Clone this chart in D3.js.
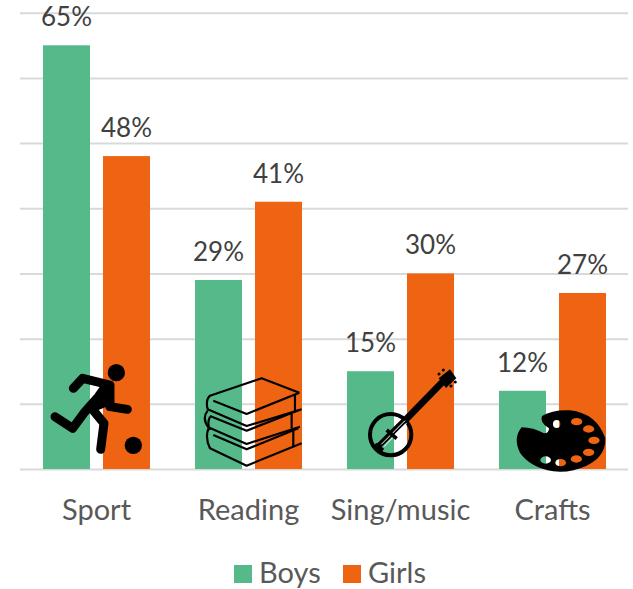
<!DOCTYPE html>
<html>
<head>
<meta charset="utf-8">
<script src="https://cdn.jsdelivr.net/npm/d3@7/dist/d3.min.js"></script>
<style>
html,body{margin:0;padding:0;background:#fff}
svg{display:block}
text{font-family:Lato,"Open Sans",sans-serif}
</style>
</head>
<body>
<svg id="chart" width="633" height="589"></svg>
<script>
const categories = ["Sport","Reading","Sing/music","Crafts"];
const seriesNames = ["Boys","Girls"];
const boys = [65,29,15,12];
const girls = [48,41,30,27];
const tickValues = [0,10,20,30,40,50,60,70];
const colors = {Boys:"#56B98A",Girls:"#EE6412"};

const svg = d3.select("#chart");
const y = d3.scaleLinear().domain([0,70]).range([469,12.7]);
const x = d3.scaleBand().domain(categories).range([20.5,628.5]);
const inner = d3.scaleBand().domain(seriesNames).range([0,x.bandwidth()]).paddingInner(0.217).paddingOuter(0.375);

// gridlines
const yAxis = d3.axisLeft(y).tickValues(tickValues).tickSize(-608).tickFormat("");
svg.append("g").attr("transform","translate(20,0)").call(yAxis)
  .call(g=>g.select(".domain").remove())
  .call(g=>g.selectAll("line").attr("stroke","#D9D9D9").attr("stroke-width",2));

// bars + labels
const valuesBySeries = {Boys:boys,Girls:girls};
seriesNames.forEach(s=>{
  const rows = categories.map((c,i)=>({c,v:valuesBySeries[s][i]}));
  svg.append("g").selectAll("rect").data(rows).join("rect")
    .attr("x",d=>x(d.c)+inner(s))
    .attr("y",d=>y(d.v))
    .attr("width",inner.bandwidth())
    .attr("height",d=>y(0)-y(d.v))
    .attr("fill",colors[s]);
  svg.append("g").selectAll("text").data(rows).join("text")
    .attr("x",d=>x(d.c)+inner(s)+inner.bandwidth()/2)
    .attr("y",d=>y(d.v)-19)
    .attr("text-anchor","middle")
    .attr("font-size",26)
    .attr("fill","#404040")
    .text(d=>d.v+"%");
});

// category axis
const xAxis = d3.axisBottom(x).tickSize(0).tickPadding(26);
svg.append("g").attr("transform","translate(0,469)").call(xAxis)
  .call(g=>g.select(".domain").remove())
  .call(g=>g.selectAll("text").attr("font-size",29).attr("fill","#595959")
    .attr("font-family","Lato,'Open Sans',sans-serif").attr("dy",null).attr("y",51));

// legend
const legendX = {Boys:234,Girls:343};
seriesNames.forEach(s=>{
  const g = svg.append("g").attr("transform",`translate(${legendX[s]},565)`);
  g.append("rect").attr("width",18).attr("height",18).attr("fill",colors[s]);
  g.append("text").attr("x",25).attr("y",18).attr("font-size",29).attr("fill","#595959").text(s);
});

// pictograms (traced in 3x crop units)
const ink = "#000";
const runner = svg.append("g").attr("transform","translate(30,350) scale(0.3333)");
const limb = {fill:"none",stroke:ink,"stroke-width":27,"stroke-linecap":"round","stroke-linejoin":"round"};
const applyAttrs = (sel,o)=>{Object.entries(o).forEach(([k,v])=>sel.attr(k,v));return sel;};
applyAttrs(runner.append("path").attr("d","M130,115 L158,85 L240,105 L240,170 L292,178"),limb);
applyAttrs(runner.append("path").attr("d","M228,108 L205,140 L165,185 L128,235 L75,200"),limb);
runner.append("path").attr("d","M222,110 L238,160 L195,178 L175,170 Z").attr("fill",ink).attr("stroke",ink).attr("stroke-width",12);
applyAttrs(runner.append("path").attr("d","M185,175 L222,220 L212,298"),limb);
runner.append("circle").attr("cx",259).attr("cy",68).attr("r",26).attr("fill",ink);
runner.append("circle").attr("cx",310).attr("cy",286).attr("r",26).attr("fill",ink);

const books = svg.append("g").attr("transform","translate(30,350) scale(0.3333)").attr("fill","none").attr("stroke",ink).attr("stroke-width",6.5).attr("stroke-linejoin","round");
[
 "M808,128 L695,85 L540,137 Q526,150 533,178 L650,228 L815,178",
 "M550,152 L650,192 L808,128",
 "M795,135 L795,182",
 "M533,182 Q515,205 535,232 L650,282 L810,230",
 "M540,198 L650,242 L808,180",
 "M785,192 L785,235",
 "M540,200 Q530,220 540,240",
 "M535,236 Q525,265 540,295 L650,347 L815,280",
 "M550,255 L650,298 L805,235",
 "M790,242 L790,290"
].forEach(d=>books.append("path").attr("d",d));

const banjo = svg.append("g").attr("transform","translate(340,350) scale(0.3333)");
banjo.append("circle").attr("cx",152).attr("cy",254).attr("r",62).attr("fill","none").attr("stroke",ink).attr("stroke-width",12);
banjo.append("path").attr("d","M198,208 L315,88").attr("stroke",ink).attr("stroke-width",20).attr("fill","none");
banjo.append("path").attr("d","M296,85 L330,58 L349,85 L318,114 Z").attr("fill",ink);
banjo.append("path").attr("d","M112,292 L192,212").attr("stroke",ink).attr("stroke-width",17).attr("fill","none");
banjo.append("path").attr("d","M124,283 L195,212 M132,290 L200,220").attr("stroke","#fff").attr("stroke-width",3).attr("fill","none");
banjo.append("path").attr("d","M140,240 L170,266").attr("stroke",ink).attr("stroke-width",11);
banjo.append("path").attr("d","M104,284 L128,302").attr("stroke",ink).attr("stroke-width",15);
[[297,72],[310,60],[333,108],[346,96]].forEach(p=>banjo.append("circle").attr("cx",p[0]).attr("cy",p[1]).attr("r",4.5).attr("fill",ink));

const holes = [[650,222,11,12],[710,215,17,11],[746,237,17,11],[762,271,17,11],[746,307,17,11],[709,327,17,11],[662,338,16,11],[617,330,16,11]];
const ell = h=>`M${h[0]-h[2]},${h[1]} a${h[2]},${h[3]} 0 1,0 ${h[2]*2},0 a${h[2]},${h[3]} 0 1,0 ${-h[2]*2},0 Z`;
const palette = "M545,232 Q580,232 612,250 Q628,250 627,235 Q598,218 606,198 Q640,178 690,181 Q770,190 796,265 Q798,320 740,347 Q690,370 640,364 Q570,352 540,308 Q518,265 545,232 Z";
svg.append("g").attr("transform","translate(340,350) scale(0.3333)")
  .append("path").attr("fill-rule","evenodd").attr("fill",ink).attr("d",palette+holes.map(ell).join(""));
</script>
</body>
</html>
